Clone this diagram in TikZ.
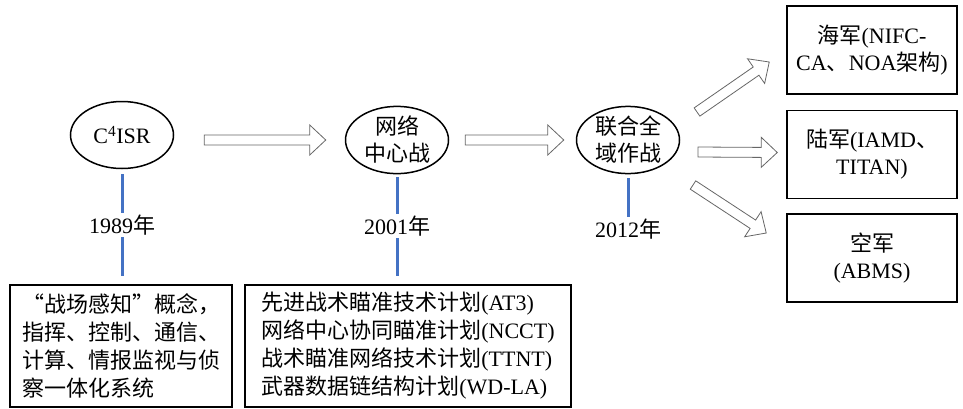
\documentclass[tikz,border=0pt]{standalone}
\usepackage{fontspec}
\setmainfont{Liberation Serif}
\newfontfamily\cjk{Noto Sans CJK SC}
\usetikzlibrary{shapes.geometric,calc}
\definecolor{tickblue}{RGB}{68,114,196}
\newcommand\zh[1]{{\cjk #1}}
% hollow block arrow from #1 to #2
\newcommand\fatarrow[2]{%
  \coordinate (fa) at (#1);
  \coordinate (fb) at (#2);
  \coordinate (fh) at ($(fb)!16pt!(fa)$);
  \draw[fat] ($(fa)!5pt!90:(fb)$) -- ($(fh)!5pt!-90:(fa)$) -- ($(fh)!15pt!-90:(fa)$) -- (fb)
    -- ($(fh)!15pt!90:(fa)$) -- ($(fh)!5pt!90:(fa)$) -- ($(fa)!5pt!-90:(fb)$) -- cycle;
}

\begin{document}
\begin{tikzpicture}[x=1pt,y=-1pt,
  every node/.style={font=\fontsize{22}{28}\selectfont},
  phase/.style={ellipse, draw, line width=1.5pt, minimum width=103pt, minimum height=67pt,
    inner sep=0pt, align=center, font=\fontsize{22}{27}\selectfont},
  year/.style={inner sep=2pt},
  note/.style={draw, line width=1.5pt, align=left, minimum height=122pt},
  branch/.style={draw, line width=1.5pt, minimum width=170pt, minimum height=88pt,
    align=center, font=\fontsize{22}{27}\selectfont},
  tick/.style={tickblue, line width=3pt},
  fat/.style={draw=black!60, fill=white, line width=0.8pt, line join=miter}]
\useasboundingbox (0,0) rectangle (963,408);

% phases
\node[phase] (c4isr) at (122,135) {C\textsuperscript{4}ISR};
\node[phase] (ncw) at (397,140) {\zh{网络}\\\zh{中心战}};
\node[phase] (jado) at (628,140) {\zh{联合全}\\\zh{域作战}};

% years
\node[year] (y1989) at (122,225) {1989\zh{年}};
\node[year] (y2001) at (397,226) {2001\zh{年}};
\node[year] (y2012) at (628,229) {2012\zh{年}};

% notes
\node[note, minimum width=222pt] (sense) at (121,346) {%
  \makebox[1em][r]{\zh{“}}\zh{战场感知}\makebox[1em][l]{\zh{”}}\zh{概念，}\\
  \zh{指挥、控制、通信、}\\
  \zh{计算、情报监视与侦}\\
  \zh{察一体化系统}};
\node[note, minimum width=326pt] (progs) at (408,346) {%
  \zh{先进战术瞄准技术计划}(AT3)\\
  \zh{网络中心协同瞄准计划}(NCCT)\\
  \zh{战术瞄准网络技术计划}(TTNT)\\
  \zh{武器数据链结构计划}(WD-LA)};

% services
\node[branch] (navy) at (872,50) {\zh{海军}(NIFC-\\CA\zh{、}NOA\zh{架构})};
\node[branch] (army) at (872,154.5) {\zh{陆军}(IAMD\zh{、}\\TITAN)};
\node[branch] (air) at (872,258) {\zh{空军}\\(ABMS)};

% timeline ticks
\draw[tick] ($(c4isr.south)+(0,5)$) -- (y1989.north);
\draw[tick] (y1989.south) -- ($(y1989.south |- sense.north)+(0,-8)$);
\draw[tick] ($(ncw.south)+(0,3)$) -- (y2001.north);
\draw[tick] (y2001.south) -- ($(y2001.south |- progs.north)+(0,-8)$);
\draw[tick] ($(jado.south)+(0,4)$) -- (y2012.north);

% block arrows
\fatarrow{$(c4isr.east)+(30,5)$}{$(ncw.west)+(-19,0)$}
\fatarrow{$(ncw.east)+(16,0)$}{$(jado.west)+(-12,0)$}
\fatarrow{$(jado)+(69,-28)$}{$(navy.west)+(-17,12)$}
\fatarrow{$(jado)+(70,12)$}{$(army.west)+(-9,-2)$}
\fatarrow{$(jado)+(65,45)$}{$(air.west)+(-20,-25)$}
\end{tikzpicture}
\end{document}
